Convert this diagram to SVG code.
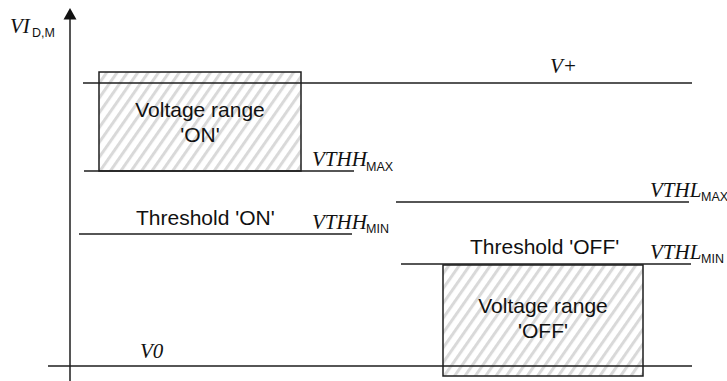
<svg xmlns="http://www.w3.org/2000/svg" width="727" height="381" viewBox="0 0 727 381">
<defs>
<style>
.ln{stroke:#1e1e1e;stroke-width:1.5;fill:none}
.box{fill:url(#hatch);stroke:#1e1e1e;stroke-width:1.5}
.t{font-family:"Liberation Sans",Arial,sans-serif;font-size:21px;fill:#111}
.v{font-family:"Liberation Serif","Times New Roman",serif;font-style:italic;font-size:21px;fill:#111}
.s{font-family:"Liberation Sans",Arial,sans-serif;font-size:12.5px;fill:#111}
</style>
<pattern id="hatch" patternUnits="userSpaceOnUse" width="8.5" height="8.5" patternTransform="rotate(35)">
<rect width="8.5" height="8.5" fill="#fff"/>
<rect x="0" y="0" width="3" height="8.5" fill="#d9d9d9"/>
</pattern>
</defs>
<rect width="727" height="381" fill="#fff"/>
<g id="axis">
<line class="ln" x1="70" y1="18" x2="70" y2="381"/>
<polygon points="70,8 63.5,19.5 76.5,19.5" fill="#111"/>
<text class="v" x="10" y="33">VI</text><text class="s" x="32" y="37">D,M</text>
</g>
<g id="range-on">
<rect class="box" x="99" y="72" width="202" height="99"/>
<text class="t" x="200" y="117" text-anchor="middle">Voltage range</text>
<text class="t" x="200" y="142" text-anchor="middle">'ON'</text>
</g>
<g id="range-off">
<rect class="box" x="443" y="265" width="200" height="111"/>
<text class="t" x="543" y="313" text-anchor="middle">Voltage range</text>
<text class="t" x="543" y="338" text-anchor="middle">'OFF'</text>
</g>
<g id="levels">
<line class="ln" x1="83" y1="83" x2="692" y2="83"/>
<line class="ln" x1="84" y1="171" x2="354" y2="171"/>
<line class="ln" x1="396" y1="202" x2="689" y2="202"/>
<line class="ln" x1="79" y1="234" x2="352" y2="234"/>
<line class="ln" x1="401" y1="264" x2="691" y2="264"/>
<line class="ln" x1="48" y1="366" x2="692" y2="366"/>
</g>
<g id="labels">
<text class="v" x="550" y="73">V+</text>
<text class="v" x="312" y="166">VTHH</text><text class="s" x="366" y="171">MAX</text>
<text class="v" x="312" y="229">VTHH</text><text class="s" x="366" y="233">MIN</text>
<text class="v" x="650" y="197">VTHL</text><text class="s" x="701" y="201">MAX</text>
<text class="v" x="650" y="259">VTHL</text><text class="s" x="701" y="263">MIN</text>
<text class="t" x="136" y="225">Threshold 'ON'</text>
<text class="t" x="470" y="254">Threshold 'OFF'</text>
<text class="v" x="140" y="358">V0</text>
</g>
</svg>
